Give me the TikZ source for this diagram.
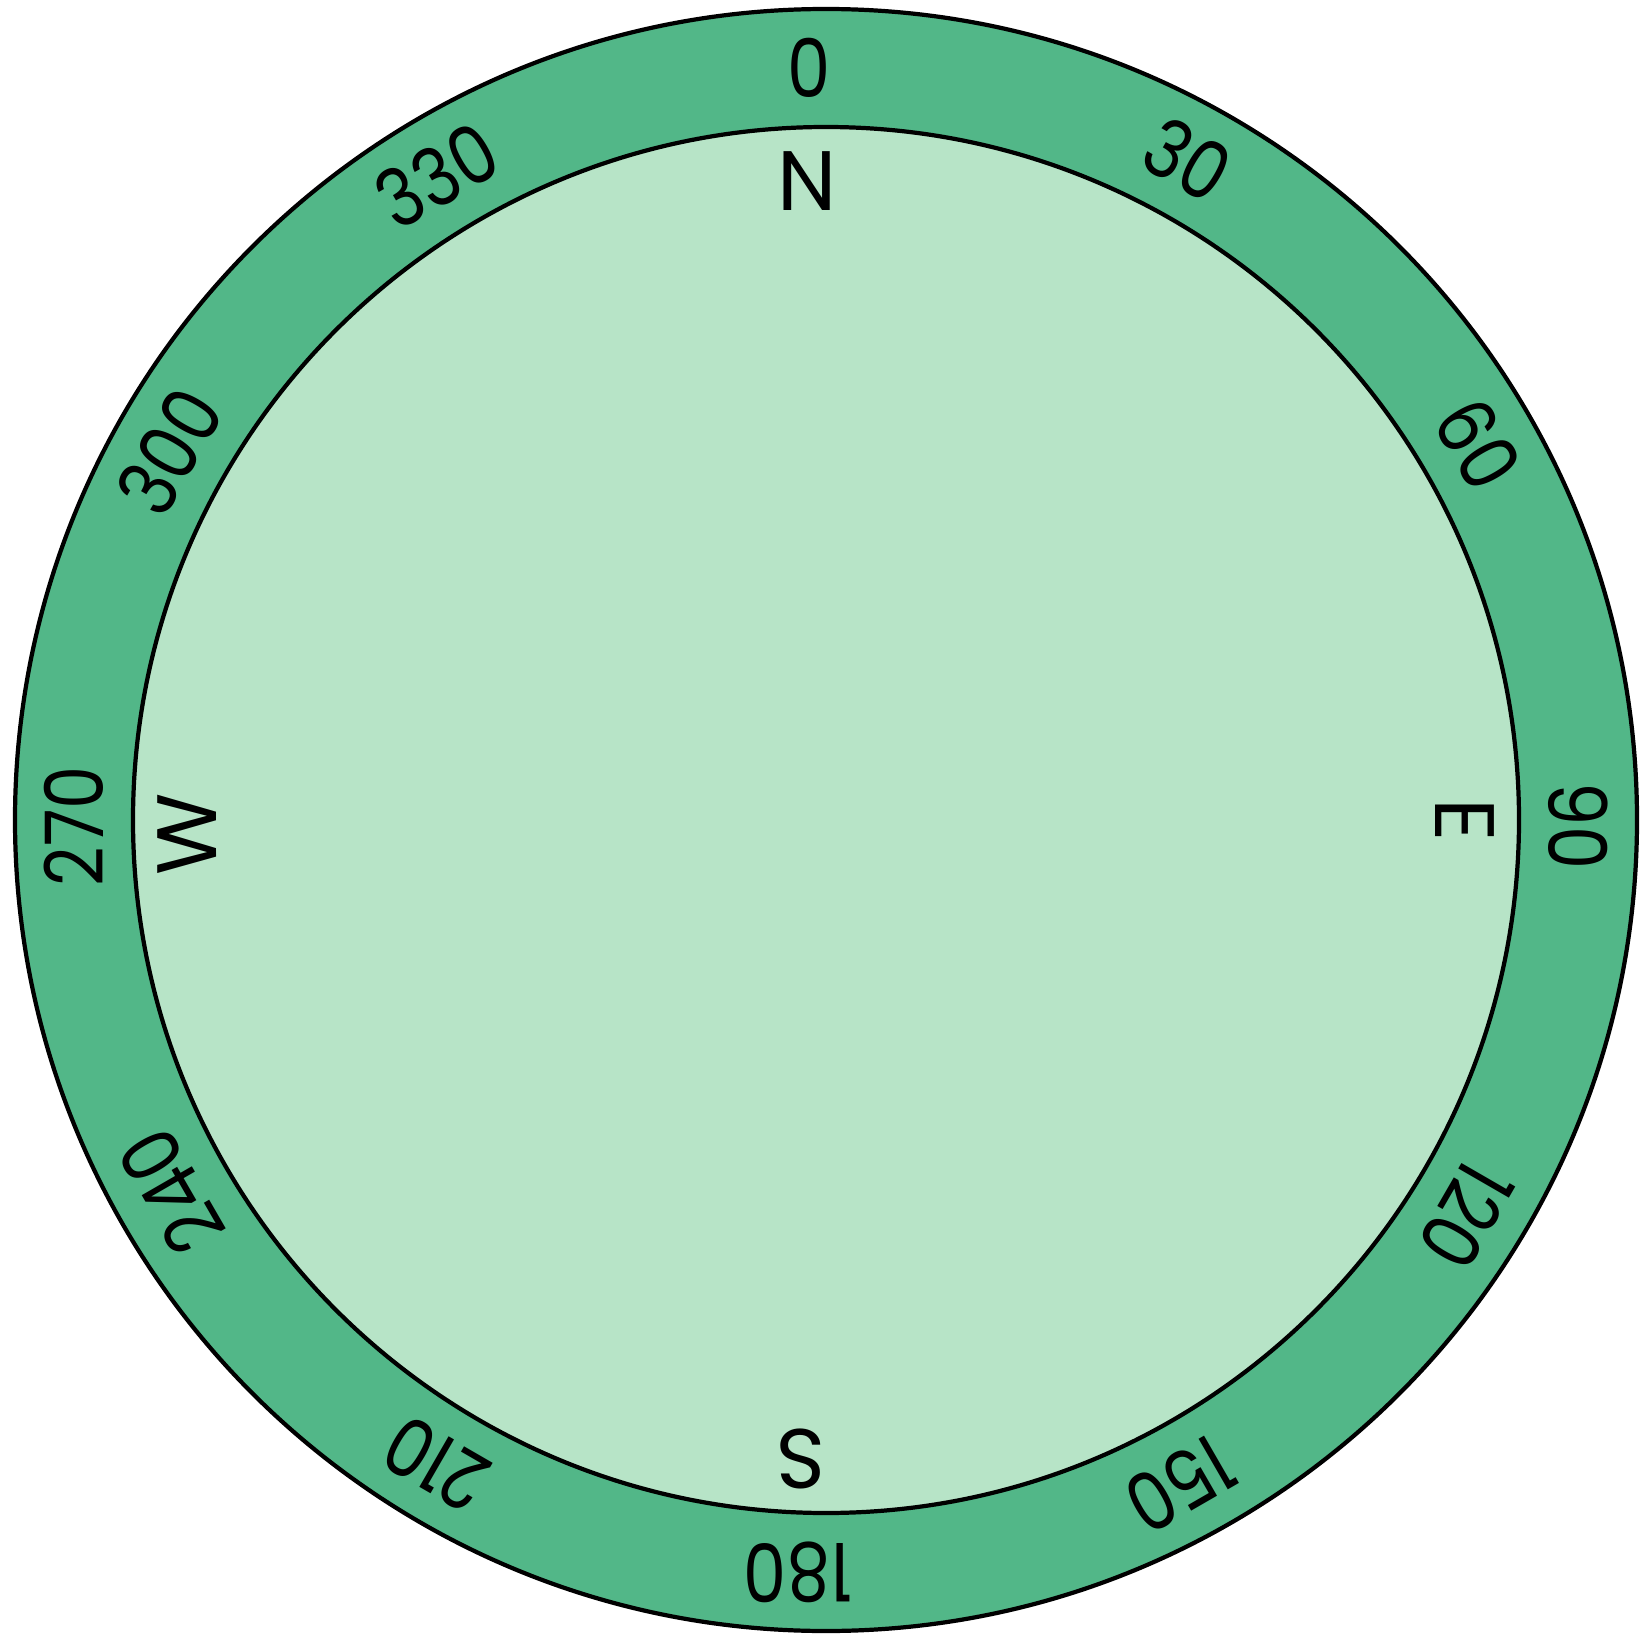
\documentclass[tikz,border=0pt]{standalone}
\usepackage{fontspec}
\setmainfont{Poppins}
\newfontfamily\degfont{Poppins}[FakeStretch=0.85]
\definecolor{ringgreen}{HTML}{52B788}
\definecolor{facegreen}{HTML}{B7E4C7}
\tikzset{
  ring/.style={draw=black, line width=1.2pt, fill=ringgreen},
  face/.style={draw=black, line width=1.2pt, fill=facegreen},
  deg/.style={inner sep=0pt, anchor=center, font=\degfont\fontsize{23}{23}\selectfont},
  dirlabel/.style={inner sep=0pt, anchor=center, font=\fontsize{24}{24}\selectfont}
}
\begin{document}
\begin{tikzpicture}
\useasboundingbox (0,0) rectangle (16.48,16.41);
\coordinate (c) at (8.26,8.21);
\draw[ring] (c) circle[radius=8.11];
\draw[face] (c) circle[radius=6.93];
\foreach \b/\a in {0/-0.165, 30/-0.166, 60/0.004, 90/0.06, 120/0.223, 150/0.2575,
                   180/0.28, 210/0.155, 240/0.055, 270/-0.06, 300/-0.091, 330/-0.148}
  \node[deg, rotate=-\b] (d\b) at ([shift={(90-\b:7.525)}, shift={(-\b:\a)}]c) {\b};
\foreach \b/\t/\a in {0/N/-0.185, 90/E/0.005, 180/S/0.255, 270/W/-0.14}
  \node[dirlabel, rotate=-\b] (l\t) at ([shift={(90-\b:6.39)}, shift={(-\b:\a)}]c) {\t};
\end{tikzpicture}
\end{document}
